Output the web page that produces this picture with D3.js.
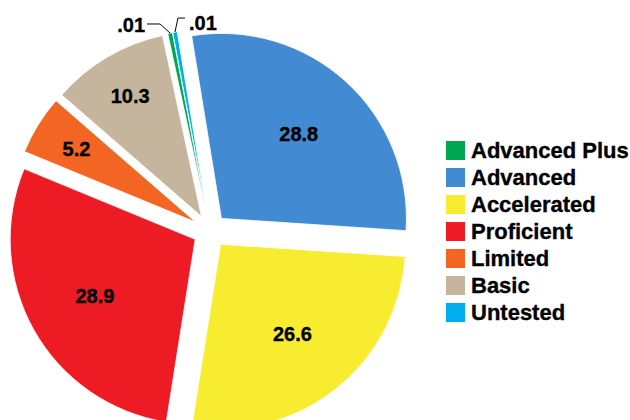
<!DOCTYPE html>
<html lang="en">
<head>
  <meta charset="UTF-8">
  <title>Performance Levels Pie</title>
  <script src="https://d3js.org/d3.v7.min.js"></script>
  <style>
    body {
      margin: 0;
      padding: 0;
      background: #fff;
      font-family: "Liberation Sans", Arial, sans-serif;
    }
    svg { display: block; }
    text { stroke: #000; stroke-width: 0.35px; }
  </style>
</head>
<body>
  <svg width="630" height="420"></svg>

  <script>
    // slices in drawing order (clockwise from the top)
    const categories = ["Untested", "Advanced", "Accelerated", "Proficient", "Limited", "Basic", "Advanced Plus"];
    const values = [0.01, 28.8, 26.6, 28.9, 5.2, 10.3, 0.01];
    const labels = [".01", "28.8", "26.6", "28.9", "5.2", "10.3", ".01"];
    // legend order
    const legendOrder = ["Advanced Plus", "Advanced", "Accelerated", "Proficient", "Limited", "Basic", "Untested"];

    const colors = {
      "Advanced Plus": "#00a651",
      "Advanced": "#428bd2",
      "Accelerated": "#f8ec31",
      "Proficient": "#ed1c24",
      "Limited": "#f26522",
      "Basic": "#c4b59c",
      "Untested": "#00aeef"
    };

    const svg = d3.select("svg");

    const cx = 210, cy = 231;
    const radius = 185;
    const explode = 17;
    const minShare = 0.4; // tiny slices still get a visible sliver
    const start = -10.7 * Math.PI / 180;

    const data = categories.map((c, i) => ({name: c, value: values[i], label: labels[i]}));

    const pie = d3.pie()
      .sort(null)
      .value(d => Math.max(d.value, minShare))
      .startAngle(start)
      .endAngle(start + 2 * Math.PI);

    const arc = d3.arc().innerRadius(0).outerRadius(radius);

    const arcs = pie(data);

    const g = svg.append("g").attr("transform", `translate(${cx},${cy})`);

    // offset of each slice along its bisector
    function shift(d) {
      const a = (d.startAngle + d.endAngle) / 2;
      return [explode * Math.sin(a), -explode * Math.cos(a)];
    }

    const slices = g.selectAll("g.slice")
      .data(arcs)
      .enter()
      .append("g")
      .attr("class", "slice")
      .attr("transform", d => `translate(${shift(d)})`);

    slices.append("path")
      .attr("d", arc)
      .attr("fill", d => colors[d.data.name])
      .attr("stroke", "#fff")
      .attr("stroke-width", 0.8);

    // labels inside the bigger slices
    slices.filter(d => d.data.value >= 1)
      .append("text")
      .attr("transform", d => {
        const a = (d.startAngle + d.endAngle) / 2;
        const r = d.data.value > 15 ? 115 : 140;
        return `translate(${r * Math.sin(a)},${-r * Math.cos(a)})`;
      })
      .attr("text-anchor", "middle")
      .attr("dy", "0.36em")
      .attr("font-size", 20)
      .attr("font-weight", "bold")
      .attr("fill", "#000")
      .text(d => d.data.label);

    // leader lines for the tiny slices
    slices.filter(d => d.data.value < 1).each(function(d) {
      const sel = d3.select(this);
      const a = (d.startAngle + d.endAngle) / 2;
      const ox = radius * Math.sin(a), oy = -radius * Math.cos(a);
      const leftSide = d.data.name === "Advanced Plus";
      let pts, tx, ty, anchor;
      if (leftSide) {
        pts = [[ox, oy], [ox - 10, oy - 9], [ox - 23, oy - 9]];
        tx = ox - 25; ty = oy - 1; anchor = "end";
      } else {
        pts = [[ox, oy], [ox + 3, oy - 14], [ox + 10, oy - 14]];
        tx = ox + 14; ty = oy - 2; anchor = "start";
      }
      sel.append("path")
        .attr("d", d3.line()(pts))
        .attr("fill", "none")
        .attr("stroke", "#000")
        .attr("stroke-width", 1);
      sel.append("text")
        .attr("x", tx)
        .attr("y", ty)
        .attr("text-anchor", anchor)
        .attr("font-size", 20)
        .attr("font-weight", "bold")
        .text(d.data.label);
    });

    // legend
    const legend = svg.append("g").attr("transform", "translate(446,141)");
    const items = legend.selectAll("g")
      .data(legendOrder)
      .enter()
      .append("g")
      .attr("transform", (d, i) => `translate(0,${i * 27})`);

    items.append("rect")
      .attr("width", 19)
      .attr("height", 19)
      .attr("fill", d => colors[d]);

    items.append("text")
      .attr("x", 25)
      .attr("y", 17)
      .attr("font-size", 22)
      .attr("font-weight", "bold")
      .attr("fill", "#000")
      .text(d => d);
  </script>
</body>
</html>
